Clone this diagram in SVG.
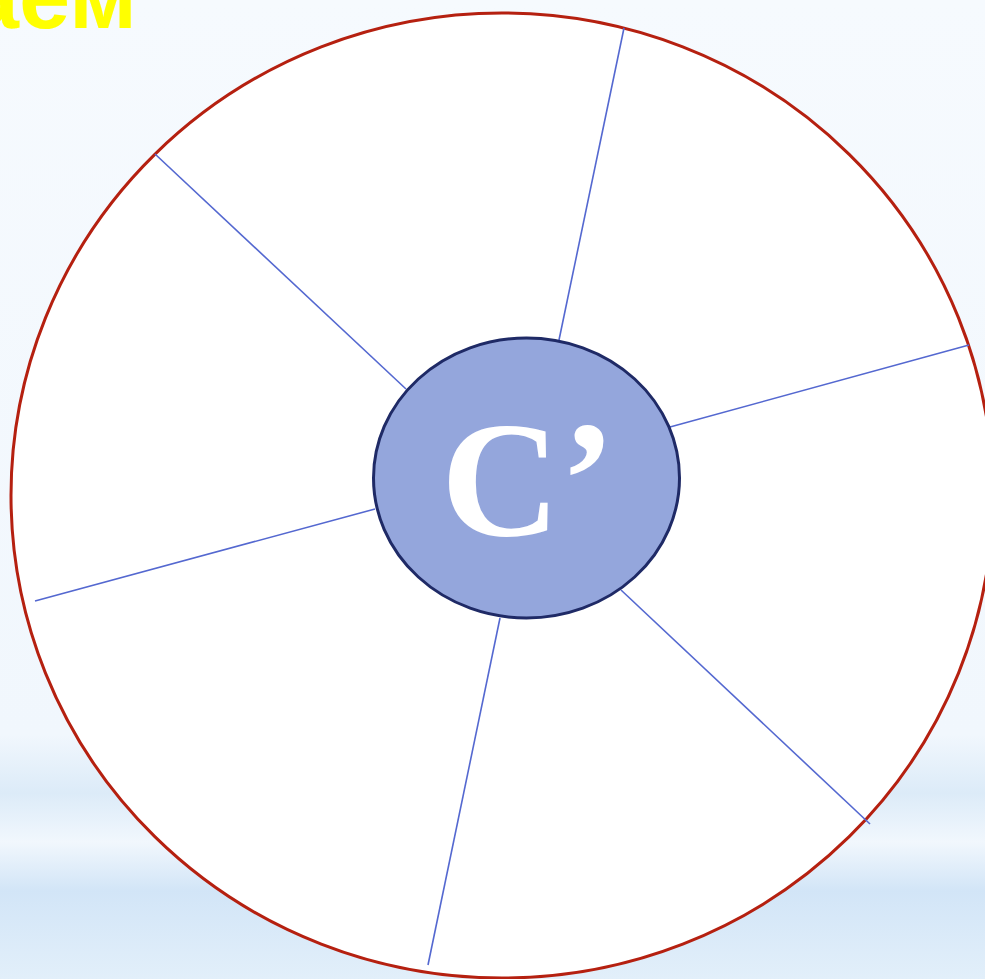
<svg xmlns="http://www.w3.org/2000/svg" width="985" height="979" viewBox="0 0 985 979">
<defs>
<linearGradient id="bg" x1="0" y1="0" x2="0" y2="1">
<stop offset="0" stop-color="#f6fafe"/>
<stop offset="0.75" stop-color="#f1f7fd"/>
<stop offset="0.81" stop-color="#dcebf8"/>
<stop offset="0.86" stop-color="#f1f7fd"/>
<stop offset="0.91" stop-color="#d2e5f7"/>
<stop offset="1" stop-color="#e2effa"/>
</linearGradient>
<style>
.spoke{stroke:#5468d0;stroke-width:1.6;fill:none}
.big{font-family:"Times New Roman","Liberation Serif",Tinos,serif;font-weight:700;font-size:165px;fill:#ffffff}
</style>
</defs>
<rect width="985" height="979" fill="url(#bg)"/>
<text x="137" y="28" text-anchor="end" font-family="'Liberation Sans', Arial, sans-serif" font-weight="bold" font-size="92" fill="#ffff00">аем</text>
<g id="outer">
<ellipse cx="502" cy="495.5" rx="491" ry="482.5" fill="#ffffff" stroke="#b52010" stroke-width="3"/>
</g>
<g id="connectors">
<line class="spoke" x1="624" y1="28" x2="559" y2="340"/>
<line class="spoke" x1="969" y1="345" x2="670" y2="427"/>
<line class="spoke" x1="870" y1="824" x2="621" y2="590"/>
<line class="spoke" x1="428" y1="965" x2="500" y2="618"/>
<line class="spoke" x1="35" y1="601" x2="375" y2="509"/>
<line class="spoke" x1="155" y1="154" x2="406" y2="389"/>
</g>
<g id="center">
<ellipse cx="526.5" cy="478" rx="153" ry="140" fill="#94a6dc" stroke="#1f2a66" stroke-width="3"/>
<text x="441" y="535" class="big">C’</text>
</g>
</svg>
